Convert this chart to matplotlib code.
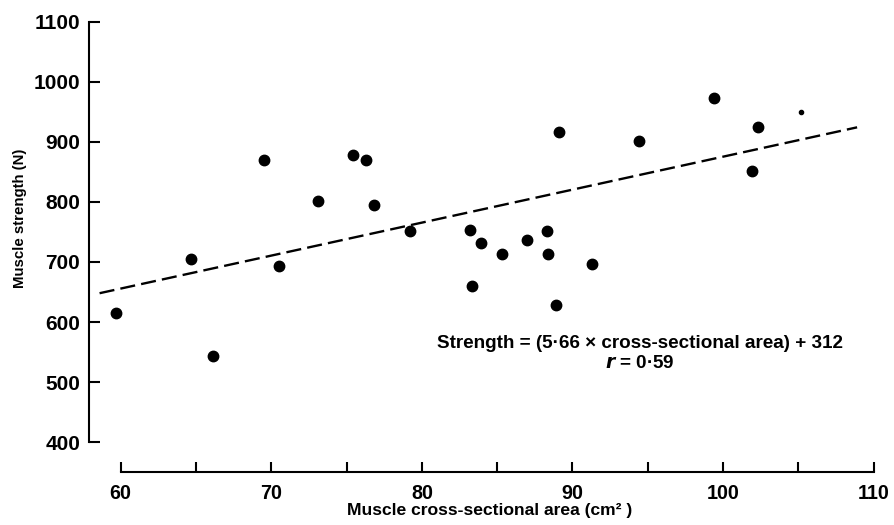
import matplotlib
matplotlib.use("Agg")
import matplotlib.pyplot as plt

plt.rcParams['font.family'] = ['Liberation Sans', 'DejaVu Sans']
plt.rcParams['font.weight'] = 'bold'

# pontos: área (cm2) e força (N)
area = [59.7, 64.7, 66.1, 69.5, 70.5, 73.1, 75.4, 76.3, 76.8, 79.2,
        83.2, 83.3, 83.9, 85.3, 87.0, 88.3, 88.4, 88.9, 89.1, 91.3,
        94.4, 99.4, 101.9, 102.3]
strength = [615, 705, 543, 870, 694, 802, 878, 869, 794, 752,
            753, 660, 731, 714, 736, 751, 714, 629, 916, 697,
            902, 973, 852, 924]

# marca incompleta perto de 105
partial_x = [105.2]
partial_y = [949]

# extremos da recta de regressão
fit_x = [58.6, 108.9]
fit_y = [648, 924]

x_ticks = [60, 70, 80, 90, 100, 110]
x_minor = [65, 75, 85, 95, 105]
y_ticks = [400, 500, 600, 700, 800, 900, 1000, 1100]

fig = plt.figure(figsize=(8.94, 5.25), dpi=100)
ax = fig.add_axes([0.0996, 0.1015, 0.8844, 0.8632])

ax.plot(fit_x, fit_y, color='black', lw=1.7, dashes=(6.4, 2.6))
ax.plot(area, strength, 'o', color='black', markersize=7.5, ls='none')
ax.plot(partial_x, partial_y, 'o', color='black', markersize=3, ls='none')

ax.set_xlim(57.9, 110.4)
ax.set_ylim(351, 1105)

ax.spines['top'].set_visible(False)
ax.spines['right'].set_visible(False)
for s in ('left', 'bottom'):
    ax.spines[s].set_linewidth(1.5)
ax.spines['left'].set_bounds(400, 1100)
ax.spines['bottom'].set_bounds(60, 110)

ax.set_xticks(x_ticks)
ax.set_xticks(x_minor, minor=True)
ax.set_yticks(y_ticks)
ax.tick_params(axis='y', direction='in', length=8, width=1.5, pad=6.5, labelsize=15)
ax.tick_params(axis='x', which='both', direction='in', length=7, width=1.5, pad=9, labelsize=14.2)

ax.set_xlabel('Muscle cross-sectional area (cm\u00b2 )', fontsize=12.6, fontweight='bold')
ax.set_ylabel('Muscle strength (N)', fontsize=10.8, fontweight='bold')
ax.xaxis.set_label_coords(0.507, -0.069)
ax.yaxis.set_label_coords(-0.078, 0.559)

ax.text(0.697, 0.284, 'Strength = (5\u00b766 \u00d7 cross-sectional area) + 312',
        transform=ax.transAxes, ha='center', va='center', fontsize=13.6)
ax.text(0.697, 0.238, '$\\it{r}$ = 0\u00b759', transform=ax.transAxes,
        ha='center', va='center', fontsize=13.6)

fig.savefig('out.png', dpi=100)
